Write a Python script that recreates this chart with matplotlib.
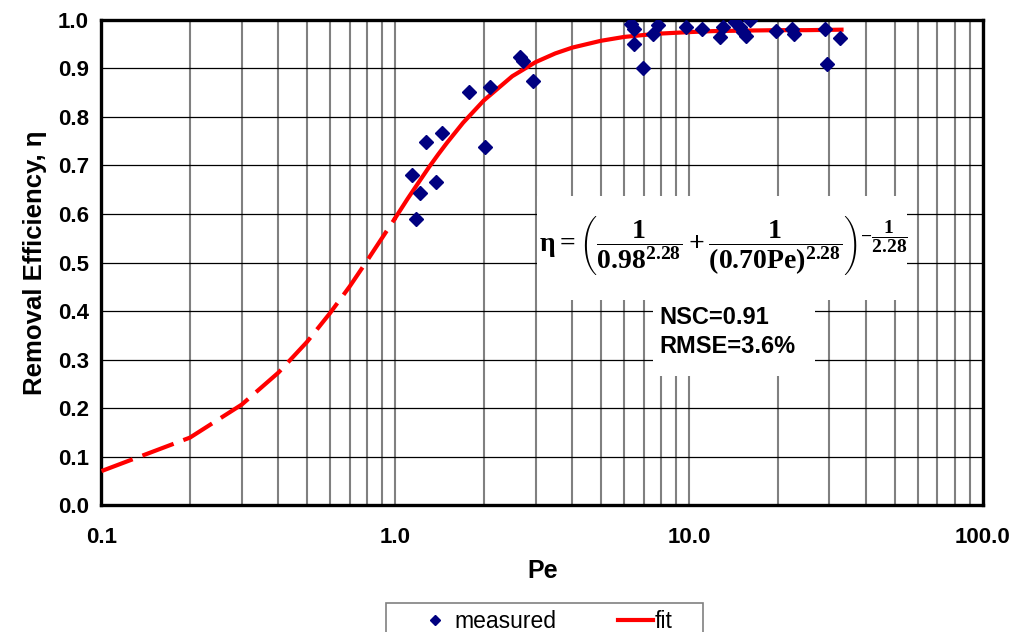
import numpy as np
import matplotlib
matplotlib.use("Agg")
import matplotlib.pyplot as plt
from matplotlib.patches import Rectangle
from matplotlib.ticker import FixedLocator, LogLocator, NullFormatter

plt.rcParams['font.family'] = ['Liberation Sans', 'DejaVu Sans']
plt.rcParams['mathtext.fontset'] = 'custom'
plt.rcParams['mathtext.rm'] = 'Liberation Serif:bold'
plt.rcParams['mathtext.it'] = 'Liberation Serif:bold'
plt.rcParams['mathtext.bf'] = 'Liberation Serif:bold'

# measured points
meas_pe = [1.14, 1.21, 1.18, 1.27, 1.44, 1.38, 1.78, 2.02, 2.10, 2.65, 2.73, 2.95,
           6.33, 6.49, 6.49, 6.98, 7.52, 7.82, 9.76, 11.1, 13.0, 12.7,
           14.3, 14.9, 15.2, 15.6, 16.1, 19.7, 22.4, 22.8, 29.1, 29.4, 32.5]
meas_eta = [0.680, 0.643, 0.590, 0.749, 0.768, 0.665, 0.852, 0.738, 0.862, 0.924, 0.916, 0.875,
            0.992, 0.981, 0.950, 0.902, 0.972, 0.990, 0.985, 0.981, 0.986, 0.964,
            0.995, 0.985, 0.975, 0.966, 0.999, 0.978, 0.981, 0.971, 0.981, 0.909, 0.962]

# fit curve
fit_pe = [0.1, 0.2, 0.3, 0.4, 0.5, 0.6, 0.7, 0.8, 0.9, 1.0, 1.1, 1.2, 1.3, 1.4, 1.5, 1.7,
          2.0, 2.5, 3.0, 3.5, 4.0, 5.0, 6.0, 7.0, 8.0, 10, 12, 15, 20, 25, 33]
fit_eta = [0.070, 0.139, 0.207, 0.273, 0.336, 0.396, 0.451, 0.503, 0.550, 0.592, 0.631, 0.665,
           0.696, 0.723, 0.747, 0.788, 0.834, 0.884, 0.913, 0.931, 0.943, 0.957, 0.965, 0.969,
           0.972, 0.975, 0.977, 0.978, 0.979, 0.979, 0.980]
n_dash = 10  # first 10 points (Pe <= 1.0) are drawn dashed

xticks = [0.1, 1.0, 10.0, 100.0]
xticklabels = ['0.1', '1.0', '10.0', '100.0']
yticks = [0.0, 0.1, 0.2, 0.3, 0.4, 0.5, 0.6, 0.7, 0.8, 0.9, 1.0]

fig = plt.figure(figsize=(10.18, 6.32), dpi=100)
ax = fig.add_axes([0.0997, 0.2009, 0.8659, 0.7675])

ax.set_xscale('log')
ax.set_xlim(0.1, 100)
ax.set_ylim(0, 1)
ax.set_axisbelow(True)

ax.xaxis.set_major_locator(FixedLocator(xticks))
ax.set_xticklabels(xticklabels)
ax.xaxis.set_minor_locator(LogLocator(base=10, subs=np.arange(2, 10)))
ax.xaxis.set_minor_formatter(NullFormatter())
ax.set_yticks(yticks)
ax.set_yticklabels(['%.1f' % v for v in yticks])

ax.grid(True, which='both', axis='x', color='#808080', lw=1.5)
ax.grid(True, which='major', axis='y', color='black', lw=0.9)
ax.tick_params(which='both', length=0)
ax.tick_params(axis='y', pad=9, labelsize=16)
ax.tick_params(axis='x', pad=16, labelsize=16)
for lab in ax.get_xticklabels() + ax.get_yticklabels():
    lab.set_fontweight('bold')
for s in ax.spines.values():
    s.set_linewidth(2.4)
    s.set_color('black')

ax.set_xlabel('Pe', fontsize=18, fontweight='bold', labelpad=8)
ax.set_ylabel('Removal Efficiency, η', fontsize=18.5, fontweight='bold', labelpad=8)

# white boxes behind the annotations
ax.add_patch(Rectangle((0.494, 0.423), 0.420, 0.214, transform=ax.transAxes,
                       facecolor='white', edgecolor='none', zorder=2))
ax.add_patch(Rectangle((0.626, 0.266), 0.184, 0.157, transform=ax.transAxes,
                       facecolor='white', edgecolor='none', zorder=2))

ax.plot(fit_pe[:n_dash], fit_eta[:n_dash], color='red', lw=3, ls=(0, (8, 2.5)), zorder=3)
ax.plot(fit_pe[n_dash - 1:], fit_eta[n_dash - 1:], color='red', lw=3, zorder=3, label='fit')
ax.plot(meas_pe, meas_eta, ls='none', marker='D', ms=7, color='#000080', zorder=4,
        label='measured')

eq = (r'$\eta = \left(\dfrac{1}{0.98^{2.28}} + \dfrac{1}{(0.70\mathrm{Pe})^{2.28}}\right)'
      r'^{-\dfrac{1}{2.28}}$')
ax.text(0.706, 0.535, eq, transform=ax.transAxes, ha='center', va='center',
        fontsize=20, zorder=5)
ax.text(0.6325, 0.386, 'NSC=0.91', transform=ax.transAxes, ha='left', va='center',
        fontsize=17, fontweight='bold', zorder=5)
ax.text(0.6325, 0.326, 'RMSE=3.6%', transform=ax.transAxes, ha='left', va='center',
        fontsize=17, fontweight='bold', zorder=5)

# legend below the plot, frame drawn separately
h, l = ax.get_legend_handles_labels()
leg = fig.legend([h[1], h[0]], [l[1], l[0]], ncol=2, loc='upper left',
                 bbox_to_anchor=(397 / 1018, 1 - 589 / 632), frameon=False,
                 fontsize=16.5, handlelength=1.5, handletextpad=0.1, columnspacing=2.7,
                 borderpad=0.4, markerscale=0.75)
fig.patches.append(Rectangle((386 / 1018, -0.02), 317 / 1018, (632 - 603) / 632 + 0.02,
                             transform=fig.transFigure, facecolor='white',
                             edgecolor='#808080', lw=1.2, zorder=0))

fig.savefig('out.png', dpi=100)
